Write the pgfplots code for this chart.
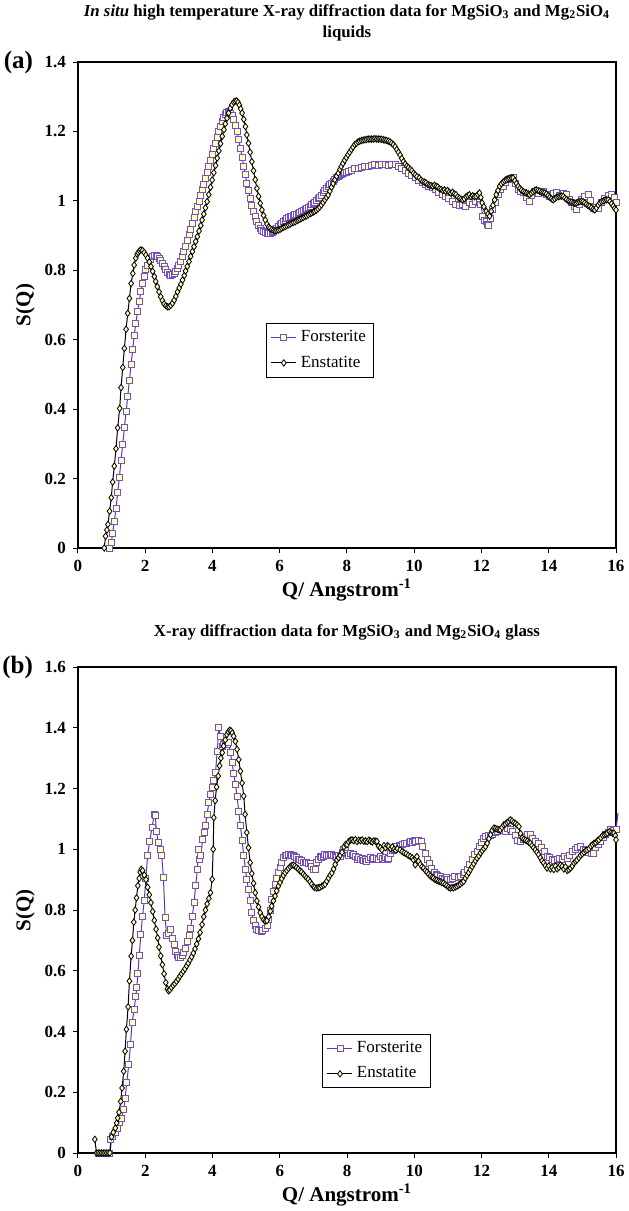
\documentclass[border=0pt]{standalone}
\usepackage{fontspec}
\setmainfont{Liberation Serif}
\usepackage{pgfplots}
\pgfplotsset{compat=1.18}
\usepackage{pgfplotstable}

\definecolor{forsLine}{RGB}{85,60,180}
\definecolor{forsMark}{RGB}{115,80,200}
\definecolor{markFill}{RGB}{255,255,190}

% ---- liquids (a) -------------------------------------------------------
\pgfplotstableread{
Q S
0.95 0.000
0.99 0.015
1.03 0.043
1.08 0.077
1.13 0.113
1.18 0.159
1.23 0.202
1.28 0.253
1.33 0.298
1.38 0.347
1.43 0.392
1.48 0.438
1.53 0.484
1.58 0.530
1.63 0.573
1.67 0.613
1.72 0.647
1.77 0.681
1.82 0.710
1.87 0.738
1.92 0.762
1.97 0.782
2.02 0.801
2.07 0.815
2.14 0.830
2.22 0.841
2.27 0.844
2.32 0.844
2.37 0.840
2.41 0.835
2.46 0.828
2.51 0.820
2.56 0.810
2.61 0.801
2.66 0.794
2.71 0.788
2.76 0.786
2.81 0.787
2.86 0.790
2.91 0.796
2.96 0.805
3.00 0.815
3.05 0.826
3.10 0.839
3.15 0.853
3.20 0.868
3.25 0.885
3.30 0.902
3.35 0.919
3.40 0.936
3.45 0.952
3.50 0.969
3.55 0.984
3.60 0.998
3.65 1.015
3.69 1.032
3.74 1.048
3.79 1.065
3.84 1.082
3.89 1.099
3.94 1.116
3.99 1.133
4.04 1.150
4.09 1.166
4.14 1.183
4.19 1.200
4.24 1.215
4.29 1.229
4.34 1.240
4.38 1.248
4.42 1.255
4.46 1.258
4.50 1.256
4.53 1.253
4.58 1.245
4.63 1.234
4.68 1.218
4.73 1.200
4.78 1.177
4.83 1.152
4.88 1.126
4.93 1.099
4.98 1.075
5.02 1.051
5.07 1.029
5.12 1.008
5.17 0.988
5.22 0.969
5.27 0.954
5.32 0.940
5.37 0.930
5.42 0.921
5.47 0.916
5.52 0.912
5.57 0.908
5.62 0.906
5.67 0.905
5.72 0.907
5.77 0.910
5.81 0.912
5.86 0.917
5.91 0.921
5.96 0.926
6.01 0.931
6.06 0.936
6.11 0.940
6.16 0.945
6.21 0.948
6.26 0.951
6.31 0.954
6.35 0.955
6.40 0.958
6.45 0.960
6.50 0.962
6.55 0.964
6.60 0.966
6.65 0.970
6.70 0.973
6.75 0.976
6.80 0.979
6.85 0.982
6.90 0.985
6.95 0.989
7.00 0.992
7.04 0.995
7.09 1.000
7.14 1.006
7.19 1.011
7.24 1.017
7.29 1.023
7.34 1.029
7.39 1.035
7.44 1.041
7.49 1.046
7.54 1.051
7.59 1.056
7.64 1.061
7.69 1.066
7.74 1.069
7.79 1.072
7.83 1.075
7.88 1.078
7.93 1.081
7.98 1.083
8.03 1.085
8.13 1.089
8.23 1.092
8.33 1.094
8.43 1.096
8.53 1.099
8.63 1.098
8.73 1.101
8.83 1.104
8.93 1.102
9.03 1.105
9.13 1.104
9.23 1.102
9.33 1.105
9.43 1.104
9.53 1.100
9.63 1.094
9.73 1.088
9.83 1.080
9.93 1.074
10.03 1.067
10.13 1.060
10.23 1.052
10.33 1.047
10.43 1.042
10.53 1.038
10.63 1.032
10.73 1.025
10.83 1.018
10.93 1.013
11.03 1.008
11.13 0.998
11.23 0.989
11.33 0.986
11.43 0.989
11.53 0.985
11.63 0.994
11.73 0.990
11.83 0.998
11.93 0.994
11.98 0.990
12.04 0.955
12.09 0.945
12.14 0.940
12.19 0.932
12.22 0.928
12.28 0.950
12.34 0.974
12.41 0.996
12.49 1.018
12.56 1.032
12.64 1.042
12.71 1.052
12.79 1.061
12.86 1.064
12.94 1.066
13.01 1.050
13.09 1.032
13.16 1.026
13.24 1.023
13.33 1.010
13.43 0.998
13.50 1.015
13.58 1.027
13.70 1.022
13.83 1.027
13.93 1.018
14.03 1.013
14.13 1.020
14.23 1.023
14.33 1.015
14.43 1.022
14.53 1.018
14.63 1.004
14.68 0.994
14.75 0.985
14.82 0.974
14.90 0.990
14.97 1.003
15.07 1.012
15.17 1.018
15.25 1.000
15.32 0.979
15.40 0.982
15.47 0.979
15.57 0.995
15.67 1.008
15.77 1.015
15.87 1.018
15.95 1.010
16.00 0.994
}\forsA

\pgfplotstableread{
Q S
0.78 0.000
0.82 0.034
0.86 0.052
0.89 0.068
0.94 0.106
0.99 0.145
1.03 0.190
1.08 0.236
1.13 0.286
1.18 0.346
1.24 0.402
1.28 0.462
1.33 0.520
1.38 0.575
1.43 0.630
1.48 0.676
1.53 0.719
1.58 0.762
1.63 0.791
1.67 0.815
1.72 0.835
1.76 0.846
1.79 0.851
1.83 0.856
1.87 0.859
1.92 0.857
1.97 0.851
2.02 0.844
2.07 0.835
2.12 0.824
2.17 0.811
2.22 0.797
2.27 0.782
2.31 0.768
2.36 0.753
2.41 0.738
2.46 0.724
2.51 0.713
2.56 0.703
2.61 0.698
2.66 0.695
2.71 0.695
2.76 0.699
2.81 0.705
2.86 0.714
2.91 0.725
2.96 0.738
3.01 0.749
3.06 0.760
3.11 0.772
3.16 0.785
3.20 0.798
3.25 0.811
3.30 0.825
3.35 0.840
3.40 0.854
3.45 0.868
3.50 0.883
3.55 0.897
3.60 0.913
3.65 0.929
3.69 0.945
3.74 0.962
3.79 0.980
3.84 0.998
3.89 1.018
3.94 1.039
3.99 1.060
4.04 1.081
4.09 1.102
4.14 1.123
4.19 1.144
4.24 1.165
4.29 1.186
4.34 1.205
4.38 1.222
4.43 1.238
4.48 1.253
4.53 1.267
4.58 1.277
4.63 1.284
4.67 1.287
4.72 1.288
4.76 1.284
4.80 1.276
4.84 1.265
4.88 1.253
4.93 1.235
4.98 1.214
5.02 1.190
5.07 1.166
5.12 1.140
5.17 1.113
5.22 1.087
5.27 1.061
5.32 1.036
5.37 1.013
5.42 0.993
5.47 0.974
5.52 0.958
5.57 0.945
5.62 0.933
5.67 0.925
5.71 0.921
5.76 0.917
5.81 0.915
5.86 0.914
5.91 0.915
5.96 0.916
6.01 0.918
6.06 0.921
6.11 0.924
6.16 0.926
6.21 0.929
6.26 0.931
6.31 0.933
6.36 0.936
6.41 0.938
6.46 0.940
6.51 0.943
6.55 0.945
6.60 0.947
6.65 0.950
6.70 0.952
6.75 0.955
6.80 0.957
6.85 0.960
6.90 0.963
6.95 0.965
7.00 0.968
7.04 0.970
7.09 0.973
7.14 0.977
7.19 0.982
7.24 0.988
7.29 0.995
7.34 1.003
7.39 1.010
7.44 1.017
7.49 1.028
7.54 1.039
7.59 1.050
7.64 1.061
7.69 1.071
7.74 1.080
7.79 1.090
7.83 1.099
7.88 1.108
7.93 1.117
7.98 1.125
8.03 1.133
8.08 1.140
8.13 1.148
8.18 1.155
8.23 1.162
8.28 1.166
8.33 1.170
8.38 1.172
8.43 1.174
8.48 1.175
8.53 1.176
8.58 1.177
8.63 1.178
8.68 1.178
8.73 1.178
8.78 1.178
8.83 1.179
8.88 1.178
8.93 1.178
8.98 1.178
9.03 1.177
9.08 1.176
9.13 1.175
9.18 1.174
9.23 1.172
9.28 1.170
9.33 1.166
9.38 1.162
9.43 1.156
9.48 1.148
9.53 1.140
9.58 1.132
9.63 1.122
9.68 1.113
9.73 1.106
9.78 1.100
9.83 1.096
9.88 1.091
9.93 1.087
9.98 1.080
10.03 1.075
10.08 1.070
10.15 1.066
10.20 1.060
10.25 1.056
10.30 1.054
10.35 1.052
10.40 1.047
10.45 1.045
10.50 1.044
10.55 1.042
10.60 1.045
10.65 1.042
10.70 1.040
10.75 1.035
10.80 1.033
10.85 1.030
10.90 1.032
10.94 1.027
10.99 1.030
11.04 1.025
11.09 1.022
11.14 1.025
11.19 1.020
11.24 1.018
11.29 1.012
11.34 1.008
11.39 1.005
11.44 1.003
11.49 1.006
11.54 1.012
11.59 1.015
11.64 1.018
11.69 1.012
11.74 1.015
11.79 1.012
11.84 1.013
11.89 1.018
11.94 1.023
11.98 1.010
12.02 0.994
12.07 0.983
12.14 0.970
12.19 0.962
12.24 0.956
12.29 0.970
12.34 0.987
12.39 1.003
12.44 1.018
12.49 1.030
12.54 1.042
12.59 1.049
12.64 1.054
12.69 1.058
12.74 1.061
12.79 1.063
12.84 1.065
12.89 1.066
12.94 1.066
12.99 1.058
13.04 1.050
13.09 1.042
13.14 1.036
13.19 1.031
13.24 1.027
13.29 1.024
13.34 1.022
13.39 1.020
13.43 1.018
13.48 1.022
13.53 1.026
13.58 1.030
13.63 1.032
13.68 1.030
13.73 1.028
13.78 1.025
13.83 1.024
13.88 1.023
13.93 1.020
13.98 1.015
14.03 1.010
14.08 1.006
14.13 1.003
14.18 1.006
14.23 1.010
14.28 1.012
14.33 1.013
14.38 1.014
14.43 1.013
14.48 1.008
14.53 1.004
14.58 1.000
14.63 0.998
14.68 0.996
14.73 0.994
14.78 0.993
14.82 0.994
14.87 0.996
14.92 0.998
14.97 0.999
15.02 0.998
15.07 0.994
15.12 0.990
15.17 0.986
15.22 0.984
15.27 0.980
15.32 0.976
15.37 0.974
15.42 0.980
15.47 0.988
15.52 0.994
15.57 0.998
15.62 1.000
15.67 1.002
15.72 1.003
15.77 1.003
15.82 0.998
15.87 0.992
15.92 0.985
15.96 0.978
16.00 0.974
}\enstA

% ---- glass (b) ---------------------------------------------------------
\pgfplotstableread{
Q S
0.60 0.000
0.65 0.000
0.70 0.000
0.75 0.000
0.80 0.000
0.85 0.000
0.90 0.000
0.95 0.000
0.97 0.046
1.03 0.055
1.10 0.068
1.16 0.082
1.22 0.099
1.29 0.113
1.36 0.143
1.40 0.181
1.45 0.231
1.51 0.291
1.56 0.357
1.61 0.431
1.67 0.473
1.72 0.517
1.75 0.545
1.78 0.590
1.82 0.649
1.87 0.720
1.92 0.780
1.97 0.830
2.02 0.905
2.07 0.978
2.13 1.025
2.20 1.071
2.27 1.115
2.30 1.110
2.33 1.060
2.39 1.022
2.44 1.000
2.49 0.978
2.54 0.907
2.59 0.775
2.64 0.715
2.70 0.722
2.76 0.737
2.81 0.705
2.86 0.687
2.91 0.665
2.96 0.650
2.99 0.644
3.05 0.645
3.10 0.652
3.15 0.660
3.20 0.675
3.25 0.695
3.30 0.715
3.35 0.740
3.40 0.780
3.45 0.824
3.50 0.880
3.55 0.934
3.58 1.000
3.62 0.965
3.65 0.978
3.71 1.033
3.75 1.055
3.79 1.077
3.84 1.115
3.89 1.153
3.94 1.180
3.99 1.203
4.04 1.225
4.09 1.252
4.14 1.323
4.19 1.400
4.24 1.370
4.29 1.340
4.33 1.345
4.38 1.351
4.43 1.345
4.48 1.351
4.53 1.320
4.58 1.285
4.63 1.250
4.68 1.214
4.73 1.175
4.78 1.125
4.83 1.077
4.88 1.030
4.93 0.978
4.98 0.935
5.02 0.900
5.07 0.868
5.12 0.830
5.17 0.791
5.22 0.765
5.27 0.748
5.32 0.737
5.38 0.732
5.45 0.731
5.50 0.733
5.56 0.740
5.62 0.748
5.67 0.770
5.72 0.800
5.76 0.835
5.81 0.860
5.86 0.885
5.91 0.905
5.96 0.923
6.01 0.940
6.06 0.958
6.11 0.972
6.16 0.978
6.21 0.981
6.26 0.983
6.31 0.982
6.36 0.980
6.40 0.978
6.45 0.975
6.50 0.972
6.55 0.967
6.60 0.965
6.65 0.962
6.70 0.958
6.75 0.956
6.80 0.955
6.85 0.952
6.90 0.954
6.95 0.945
7.00 0.934
7.05 0.932
7.10 0.955
7.14 0.967
7.20 0.976
7.25 0.973
7.30 0.976
7.34 0.983
7.40 0.980
7.45 0.978
7.50 0.982
7.54 0.983
7.60 0.980
7.65 0.975
7.70 0.972
7.75 0.978
7.80 0.975
7.85 0.990
7.90 0.998
7.95 0.995
8.00 0.985
8.05 0.980
8.10 0.985
8.15 0.978
8.19 0.982
8.25 0.975
8.30 0.968
8.35 0.972
8.40 0.965
8.45 0.970
8.50 0.962
8.55 0.966
8.59 0.960
8.65 0.968
8.70 0.972
8.75 0.965
8.80 0.970
8.89 0.971
8.95 0.968
9.00 0.975
9.05 0.970
9.10 0.965
9.15 0.972
9.20 0.968
9.24 0.971
9.30 0.985
9.35 0.995
9.40 1.000
9.48 1.009
9.55 1.012
9.60 1.008
9.65 1.015
9.70 1.020
9.78 1.020
9.85 1.022
9.90 1.025
9.95 1.023
10.00 1.028
10.05 1.026
10.13 1.029
10.20 1.027
10.25 1.010
10.33 0.987
10.40 0.965
10.45 0.952
10.52 0.938
10.60 0.925
10.65 0.918
10.70 0.915
10.77 0.911
10.85 0.905
10.90 0.902
10.95 0.908
11.00 0.900
11.07 0.900
11.15 0.904
11.20 0.910
11.30 0.908
11.37 0.911
11.45 0.918
11.50 0.925
11.57 0.933
11.65 0.950
11.72 0.968
11.80 0.982
11.87 0.993
11.95 1.010
12.00 1.022
12.06 1.035
12.12 1.042
12.20 1.045
12.26 1.046
12.32 1.048
12.40 1.055
12.48 1.060
12.56 1.064
12.62 1.062
12.70 1.060
12.78 1.068
12.86 1.064
12.92 1.060
13.00 1.045
13.08 1.030
13.16 1.026
13.24 1.032
13.30 1.040
13.38 1.048
13.45 1.048
13.52 1.035
13.60 1.025
13.70 1.020
13.78 1.005
13.86 0.992
13.95 0.976
14.02 0.972
14.10 0.968
14.18 0.962
14.25 0.965
14.32 0.970
14.40 0.966
14.48 0.975
14.55 0.971
14.62 0.980
14.70 0.992
14.78 1.000
14.86 1.005
14.94 1.009
15.02 1.000
15.10 0.995
15.18 0.990
15.26 0.985
15.34 0.987
15.40 1.005
15.47 1.015
15.54 1.026
15.62 1.040
15.70 1.050
15.77 1.055
15.84 1.064
15.92 1.062
16.00 1.064
}\forsB

\pgfplotstableread{
Q S
0.50 0.045
0.55 0.000
0.60 0.000
0.65 0.000
0.70 0.000
0.75 0.000
0.80 0.000
0.85 0.000
0.90 0.000
0.95 0.000
1.00 0.053
1.05 0.068
1.11 0.082
1.15 0.099
1.18 0.115
1.22 0.134
1.27 0.170
1.31 0.214
1.36 0.269
1.40 0.335
1.44 0.407
1.49 0.481
1.53 0.566
1.58 0.648
1.62 0.700
1.66 0.760
1.70 0.800
1.74 0.840
1.78 0.880
1.82 0.904
1.85 0.925
1.88 0.934
1.92 0.930
1.97 0.915
2.02 0.900
2.07 0.875
2.12 0.850
2.17 0.824
2.22 0.795
2.27 0.766
2.32 0.737
2.37 0.708
2.41 0.678
2.46 0.649
2.51 0.620
2.56 0.590
2.61 0.561
2.66 0.540
2.69 0.534
2.73 0.537
2.78 0.545
2.83 0.552
2.88 0.558
2.93 0.565
2.98 0.573
3.03 0.582
3.08 0.590
3.13 0.598
3.18 0.606
3.23 0.616
3.28 0.625
3.33 0.636
3.38 0.646
3.43 0.658
3.48 0.672
3.53 0.688
3.58 0.705
3.63 0.726
3.69 0.752
3.74 0.778
3.79 0.800
3.84 0.820
3.89 0.838
3.94 0.857
3.99 0.901
4.02 1.000
4.04 1.104
4.08 1.160
4.12 1.205
4.17 1.241
4.21 1.275
4.25 1.300
4.29 1.318
4.33 1.340
4.38 1.360
4.43 1.378
4.47 1.387
4.51 1.392
4.55 1.390
4.59 1.383
4.63 1.372
4.68 1.355
4.73 1.329
4.78 1.295
4.83 1.257
4.88 1.218
4.93 1.175
4.97 1.115
5.02 1.055
5.07 1.005
5.12 0.956
5.17 0.920
5.22 0.888
5.27 0.857
5.32 0.830
5.37 0.810
5.42 0.791
5.47 0.778
5.52 0.768
5.57 0.764
5.62 0.765
5.67 0.778
5.72 0.796
5.76 0.813
5.81 0.830
5.86 0.846
5.91 0.863
5.96 0.879
6.01 0.891
6.06 0.903
6.11 0.914
6.16 0.923
6.21 0.930
6.26 0.937
6.31 0.943
6.36 0.947
6.40 0.948
6.45 0.945
6.50 0.940
6.55 0.935
6.60 0.929
6.65 0.925
6.70 0.918
6.75 0.912
6.80 0.906
6.85 0.901
6.90 0.893
6.95 0.885
7.00 0.877
7.04 0.874
7.10 0.872
7.15 0.874
7.19 0.874
7.25 0.878
7.30 0.882
7.35 0.885
7.40 0.895
7.45 0.905
7.50 0.915
7.55 0.922
7.60 0.935
7.65 0.950
7.70 0.965
7.75 0.972
7.80 0.980
7.85 0.990
7.91 1.008
7.96 1.016
8.00 1.015
8.05 1.025
8.10 1.030
8.15 1.031
8.20 1.028
8.25 1.032
8.30 1.025
8.35 1.030
8.40 1.028
8.45 1.031
8.50 1.026
8.55 1.028
8.60 1.025
8.65 1.030
8.70 1.027
8.75 1.024
8.80 1.028
8.85 1.026
8.89 1.026
8.94 1.010
8.99 1.005
9.04 0.998
9.10 1.012
9.15 1.005
9.20 1.012
9.24 1.009
9.30 1.002
9.35 1.008
9.40 1.000
9.45 0.996
9.50 1.002
9.58 0.998
9.64 0.992
9.70 0.988
9.76 0.985
9.82 0.980
9.88 0.976
9.94 0.972
9.98 0.965
10.03 0.949
10.05 0.970
10.08 0.976
10.13 0.960
10.18 0.950
10.23 0.942
10.28 0.938
10.33 0.930
10.38 0.925
10.43 0.918
10.48 0.912
10.53 0.908
10.57 0.905
10.62 0.900
10.67 0.898
10.72 0.895
10.77 0.893
10.82 0.890
10.87 0.889
10.92 0.884
10.97 0.880
11.02 0.875
11.07 0.872
11.12 0.874
11.17 0.873
11.22 0.876
11.27 0.878
11.32 0.882
11.37 0.885
11.42 0.890
11.47 0.894
11.52 0.905
11.57 0.914
11.62 0.923
11.67 0.933
11.72 0.943
11.77 0.952
11.82 0.962
11.87 0.971
11.92 0.978
11.97 0.988
12.02 0.995
12.07 1.002
12.12 1.009
12.17 1.020
12.22 1.035
12.27 1.048
12.32 1.062
12.37 1.070
12.42 1.068
12.47 1.066
12.52 1.064
12.56 1.064
12.61 1.072
12.66 1.080
12.71 1.083
12.76 1.088
12.81 1.092
12.86 1.097
12.91 1.093
12.96 1.088
13.01 1.085
13.06 1.080
13.11 1.075
13.16 1.052
13.21 1.037
13.26 1.033
13.31 1.030
13.36 1.027
13.41 1.022
13.45 1.020
13.50 1.012
13.55 1.005
13.60 0.998
13.65 0.990
13.70 0.982
13.75 0.972
13.80 0.962
13.85 0.955
13.90 0.946
13.95 0.938
14.00 0.945
14.05 0.935
14.10 0.940
14.15 0.933
14.20 0.945
14.25 0.935
14.30 0.940
14.35 0.948
14.40 0.944
14.45 0.935
14.50 0.942
14.55 0.930
14.60 0.933
14.65 0.938
14.70 0.945
14.75 0.955
14.80 0.960
14.84 0.965
14.90 0.972
14.95 0.980
15.00 0.985
15.05 0.990
15.10 0.995
15.14 0.998
15.20 1.002
15.25 1.010
15.30 1.015
15.35 1.020
15.40 1.022
15.45 1.028
15.49 1.031
15.55 1.038
15.60 1.045
15.65 1.048
15.70 1.050
15.74 1.053
15.80 1.058
15.85 1.055
15.90 1.052
15.94 1.053
15.98 1.045
16.00 1.031
}\enstB

\pgfplotsset{
  xrdaxis/.style={
    scale only axis, width=269pt, height=243pt,
    xmin=0, xmax=16, xtick={0,2,...,16}, ymin=0,
    tick align=outside, xtick pos=bottom, ytick pos=left,
    major tick length=2.5pt,
    tick style={black, line width=0.5pt},
    axis line style={line width=0.7pt},
    clip=false,
    tick label style={font=\fontsize{8.5}{10}\selectfont\bfseries},
    /pgf/number format/assume math mode=true,
    label style={font=\fontsize{10.5}{12}\selectfont\bfseries},
    xlabel={Q/ Angstrom\textsuperscript{-1}},
    xlabel style={yshift=3pt},
    ylabel={S(Q)},
    ylabel style={at={(axis description cs:-0.098,0.5)}, anchor=center},
    % pgfplots already shifts the title up by 6pt
    title style={font=\fontsize{8.4}{10.4}\selectfont\bfseries, align=center},
    legend style={draw=black, line width=0.5pt, fill=white,
                  font=\fontsize{8.5}{10}\selectfont,
                  inner xsep=2pt, inner ysep=1.5pt, row sep=1.5pt,
                  cells={anchor=west}},
    legend image code/.code={%
      \draw[mark repeat=2,mark phase=2]
        plot coordinates {(0cm,0cm) (0.22cm,0cm) (0.44cm,0cm)};},
  },
  fors/.style={color=forsLine, line width=0.5pt, mark=square*, mark size=1.5pt,
               mark options={draw=forsMark, fill=markFill, line width=0.45pt}},
  enst/.style={color=black, line width=0.5pt, mark=diamond*, mark size=1.6pt,
               mark options={draw=black, fill=markFill, line width=0.4pt}},
}

\begin{document}
\begin{tikzpicture}
% ---- (a) liquids -------------------------------------------------------
\begin{axis}[
  xrdaxis, name=pa,
  ymax=1.4, ytick={0,0.2,...,1.4},
  title={{\itshape In situ} high temperature X-ray diffraction data for MgSiO\textsubscript{3} and Mg\textsubscript{2}SiO\textsubscript{4}\\liquids},
  title style={yshift=1pt},
  legend style={at={(axis cs:5.6,0.648)}, anchor=north west},
]
\addplot[fors] table[x=Q, y=S] {\forsA};
\addlegendentry{Forsterite}
\addplot[enst] table[x=Q, y=S] {\enstA};
\addlegendentry{Enstatite}
\node[anchor=east, xshift=-19pt, font=\fontsize{12.5}{14}\selectfont\bfseries]
  at (rel axis cs:0,1) {(a)};
\end{axis}

% ---- (b) glass ---------------------------------------------------------
\begin{axis}[
  xrdaxis, name=pb, at={(0,-302.5pt)},
  ymax=1.6, ytick={0,0.2,...,1.6},
  title={X-ray diffraction data for MgSiO\textsubscript{3} and Mg\textsubscript{2}SiO\textsubscript{4} glass},
  title style={yshift=4pt},
  legend style={at={(axis cs:7.27,0.392)}, anchor=north west},
]
\addplot[fors] table[x=Q, y=S] {\forsB};
\addlegendentry{Forsterite}
\addplot[enst] table[x=Q, y=S] {\enstB};
\addlegendentry{Enstatite}
% the Excel line runs a little past the right edge of the plot area
\addplot[forsLine, line width=0.5pt, forget plot]
  coordinates {(16.00,1.064) (16.06,1.120)};
\node[anchor=east, xshift=-19pt, font=\fontsize{12.5}{14}\selectfont\bfseries]
  at (rel axis cs:0,1) {(b)};
\end{axis}

\pgfresetboundingbox
\path ([xshift=-39pt,yshift=31pt]pa.north west) rectangle ([xshift=6pt,yshift=-29pt]pb.south east);
\end{tikzpicture}
\end{document}
